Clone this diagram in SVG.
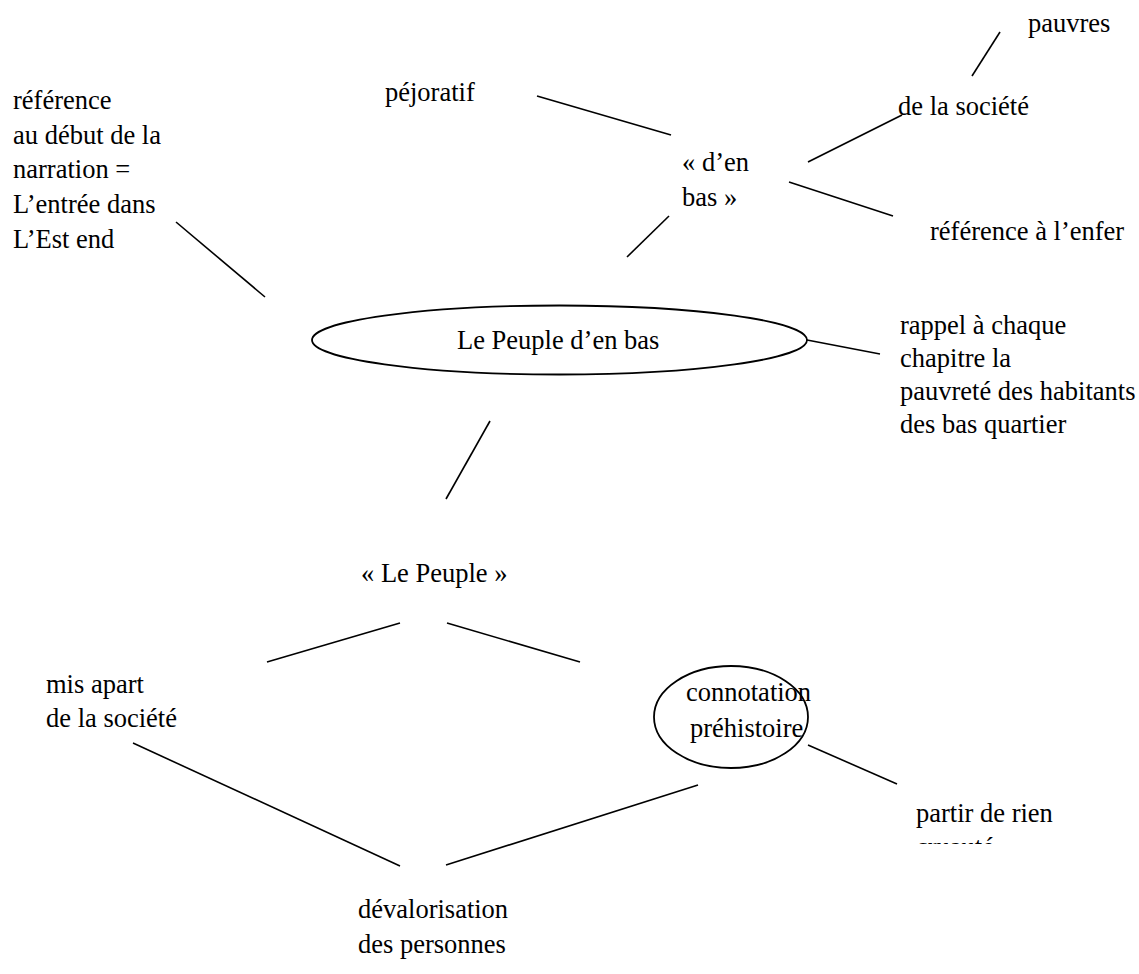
<svg xmlns="http://www.w3.org/2000/svg" width="1139" height="974" viewBox="0 0 1139 974">
<style>
.t text{font-family:"Liberation Serif","Times New Roman",Times,serif;font-size:26.5px;fill:#000}
.c line{stroke:#000;stroke-width:1.6;fill:none}
.n ellipse{fill:#fff;stroke:#000;stroke-width:1.8}
</style>
<defs>
<clipPath id="clipCru"><rect x="900" y="800" width="200" height="44"/></clipPath>
</defs>
<rect width="1139" height="974" fill="#fff"/>
<g class="c" id="connectors">
<line x1="1000" y1="32" x2="972" y2="76"/>
<line x1="537" y1="96" x2="671" y2="135"/>
<line x1="902" y1="115" x2="808" y2="162"/>
<line x1="789" y1="182" x2="893" y2="216"/>
<line x1="669" y1="216" x2="627" y2="257"/>
<line x1="176" y1="222" x2="265" y2="297"/>
<line x1="807" y1="340" x2="880" y2="354"/>
<line x1="490" y1="421" x2="446" y2="499"/>
<line x1="267" y1="662" x2="400" y2="623"/>
<line x1="447" y1="623" x2="580" y2="662"/>
<line x1="133" y1="743" x2="400" y2="866"/>
<line x1="698" y1="785" x2="446" y2="865"/>
<line x1="808" y1="745" x2="897" y2="784"/>
</g>
<g class="t">
<g id="n-pauvres"><text x="1028" y="32">pauvres</text></g>
<g id="n-pejoratif"><text x="385" y="101">péjoratif</text></g>
<g id="n-societe"><text x="898" y="115">de la société</text></g>
<g id="n-denbas"><text x="682" y="171">« d’en</text><text x="682" y="206">bas »</text></g>
<g id="n-enfer"><text x="930" y="240">référence à l’enfer</text></g>
<g id="n-reference"><text x="13" y="109">référence</text><text x="13" y="144">au début de la</text><text x="13" y="178">narration =</text><text x="13" y="213">L’entrée dans</text><text x="13" y="248">L’Est end</text></g>
<g id="n-main" class="n"><ellipse cx="559.5" cy="340" rx="247.5" ry="34.5"/><text x="457" y="349">Le Peuple d’en bas</text></g>
<g id="n-rappel"><text x="900" y="334">rappel à chaque</text><text x="900" y="367">chapitre la</text><text x="900" y="400">pauvreté des habitants</text><text x="900" y="433">des bas quartier</text></g>
<g id="n-peuple"><text x="361" y="582">« Le Peuple »</text></g>
<g id="n-apart"><text x="46" y="693">mis apart</text><text x="46" y="727">de la société</text></g>
<g id="n-connotation" class="n"><ellipse cx="731" cy="717" rx="77" ry="51"/><text x="686" y="701">connotation</text><text x="690" y="737">préhistoire</text></g>
<g id="n-partir"><text x="916" y="822">partir de rien</text><text x="916" y="856" clip-path="url(#clipCru)">cruauté</text></g>
<g id="n-devalorisation"><text x="358" y="918">dévalorisation</text><text x="358" y="953">des personnes</text></g>
</g>
</svg>
